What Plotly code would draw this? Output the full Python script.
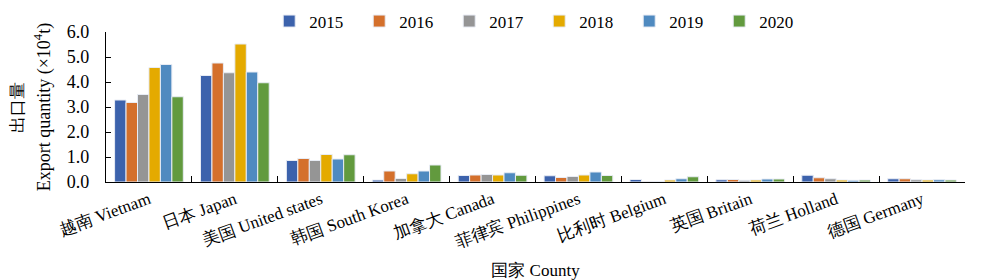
import plotly.graph_objects as go

categories = ["越南 Vietnam", "日本 Japan", "美国 United states", "韩国 South Korea",
              "加拿大 Canada", "菲律宾 Philippines", "比利时 Belgium", "英国 Britain",
              "荷兰 Holland", "德国 Germany"]
years = ["2015", "2016", "2017", "2018", "2019", "2020"]

v2015 = [3.28, 4.26, 0.86, 0.08, 0.26, 0.25, 0.10, 0.09, 0.27, 0.13]
v2016 = [3.18, 4.76, 0.94, 0.44, 0.28, 0.18, 0.01, 0.10, 0.17, 0.13]
v2017 = [3.50, 4.37, 0.86, 0.14, 0.30, 0.22, 0.01, 0.07, 0.13, 0.09]
v2018 = [4.58, 5.52, 1.10, 0.33, 0.28, 0.28, 0.08, 0.08, 0.08, 0.08]
v2019 = [4.70, 4.40, 0.92, 0.44, 0.37, 0.40, 0.13, 0.12, 0.07, 0.09]
v2020 = [3.41, 3.97, 1.09, 0.68, 0.27, 0.26, 0.21, 0.12, 0.08, 0.08]

series = [v2015, v2016, v2017, v2018, v2019, v2020]
colors = ["#3C62AC", "#D4702C", "#959595", "#E4AA00", "#4F8AC0", "#629A3E"]

FONT = "Liberation Serif"

fig = go.Figure()
for name, vals, col in zip(years, series, colors):
    fig.add_trace(go.Bar(
        x=categories, y=vals, name=name,
        marker=dict(color=col, line=dict(color="#E8ECF4", width=1)),
    ))

fig.update_layout(
    width=981, height=280,
    margin=dict(l=106, r=16, t=32, b=98, autoexpand=False),
    plot_bgcolor="white", paper_bgcolor="white",
    barmode="group", bargap=0.2, bargroupgap=0,
    font=dict(family=FONT, color="black", size=16),
    legend=dict(orientation="h", x=0.19, xanchor="left", y=1.07, yanchor="middle",
                font=dict(size=17, family=FONT), itemwidth=30,
                entrywidth=45, entrywidthmode="pixels",
                traceorder="normal", bgcolor="rgba(0,0,0,0)"),
    showlegend=True,
    xaxis=dict(
        showline=True, linecolor="black", linewidth=1.3,
        ticks="inside", ticklen=6, tickcolor="black", tickson="boundaries",
        tickangle=-20, tickfont=dict(size=17, family=FONT),
        title=dict(text="国家 County", font=dict(size=17, family=FONT), standoff=14),
        showgrid=False,
    ),
    yaxis=dict(
        range=[0, 6], dtick=1, tickformat=".1f",
        showline=True, linecolor="black", linewidth=1.3,
        ticks="inside", ticklen=5, tickcolor="black",
        tickfont=dict(size=18, family=FONT), ticklabelstandoff=12,
        showgrid=False, zeroline=False,
    ),
)

fig.add_annotation(xref="paper", yref="paper", x=-0.104, y=0.5, xanchor="center", yanchor="middle",
                   text="出口量", textangle=-90, showarrow=False,
                   font=dict(size=17, family=FONT))
fig.add_annotation(xref="paper", yref="paper", x=-0.073, y=0.5, xanchor="center", yanchor="middle",
                   text="Export quantity (×10<sup>4</sup>t)", textangle=-90, showarrow=False,
                   font=dict(size=18, family=FONT))

fig.write_html("out.html")
